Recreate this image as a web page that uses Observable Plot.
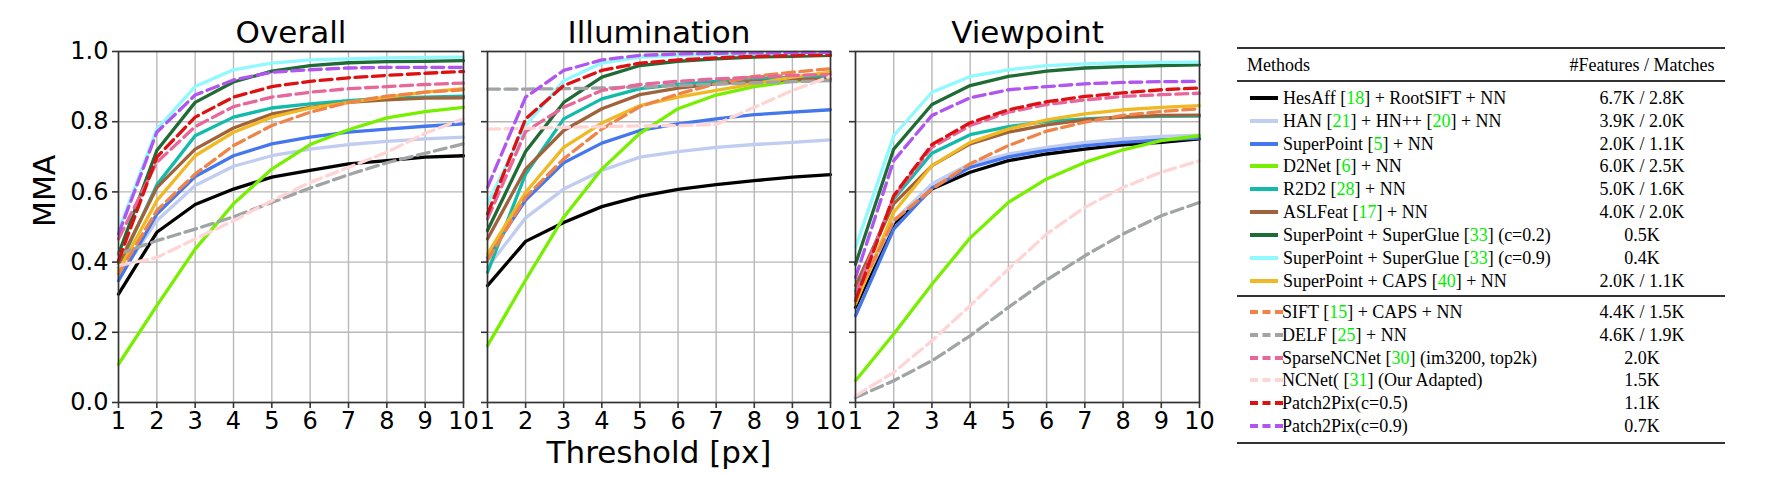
<!DOCTYPE html>
<html>
<head>
<meta charset="utf-8">
<script src="https://cdn.jsdelivr.net/npm/d3@7"></script>
<script src="https://cdn.jsdelivr.net/npm/@observablehq/plot@0.6"></script>
<style>
  body { margin: 0; background: #fff; }
  #wrap { position: relative; width: 1777px; height: 477px; overflow: hidden; background: #fff; }
  #wrap > svg { position: absolute; top: 0; }
  .legend { position: absolute; left: 1237px; top: 0; width: 488px; height: 477px;
            font-family: "Liberation Serif", "Times New Roman", serif; font-size: 18px; color: #000; }
  .rule { position: absolute; left: 0; width: 488px; background: #333; }
  .row { position: absolute; left: 0; width: 488px; height: 22px; line-height: 22px; white-space: nowrap; }
  .row .name { position: absolute; left: 46px; }
  .row .num { position: absolute; left: 405px; transform: translateX(-50%); }
  #wrap .row svg.sw { position: absolute; left: 13px; top: 9px; }
  .cite { color: #00ee00; }
</style>
</head>
<body>
<div id="wrap"></div>
<script>
// ---------------- data ----------------
const thresholds = [1, 2, 3, 4, 5, 6, 7, 8, 9, 10];
const yTicks = [0, 0.2, 0.4, 0.6, 0.8, 1.0];
const panelTitles = ["Overall", "Illumination", "Viewpoint"];

const methods = [
  "HesAff [18] + RootSIFT + NN",
  "HAN [21] + HN++ [20] + NN",
  "SuperPoint [5] + NN",
  "D2Net [6] + NN",
  "R2D2 [28] + NN",
  "ASLFeat [17] + NN",
  "SuperPoint + SuperGlue [33] (c=0.2)",
  "SuperPoint + SuperGlue [33] (c=0.9)",
  "SuperPoint + CAPS [40] + NN",
  "SIFT [15] + CAPS + NN",
  "DELF [25] + NN",
  "SparseNCNet [30] (im3200, top2k)",
  "NCNet( [31] (Our Adapted)",
  "Patch2Pix(c=0.5)",
  "Patch2Pix(c=0.9)"
];
const featureCounts = [
  "6.7K / 2.8K", "3.9K / 2.0K", "2.0K / 1.1K", "6.0K / 2.5K", "5.0K / 1.6K",
  "4.0K / 2.0K", "0.5K", "0.4K", "2.0K / 1.1K",
  "4.4K / 1.5K", "4.6K / 1.9K", "2.0K", "1.5K", "1.1K", "0.7K"
];
const colors = [
  "#000000", "#c0ccf0", "#4477ee", "#77f000", "#11bbaa", "#a0623a", "#1f6b35", "#90f8ff",
  "#f0b822", "#f08448", "#a0a4a4", "#e8679a", "#ffd4d4", "#dd1111", "#b055f0"
];
const dashed = [false, false, false, false, false, false, false, false, false,
                true, true, true, true, true, true];

// MMA per method (rows in method order), thresholds 1..10
const overallMMA = [
  [0.309, 0.485, 0.564, 0.608, 0.642, 0.661, 0.680, 0.689, 0.699, 0.703],
  [0.356, 0.518, 0.618, 0.673, 0.703, 0.722, 0.735, 0.744, 0.751, 0.756],
  [0.347, 0.537, 0.644, 0.703, 0.737, 0.756, 0.770, 0.779, 0.787, 0.794],
  [0.109, 0.276, 0.437, 0.566, 0.665, 0.735, 0.777, 0.811, 0.829, 0.841],
  [0.385, 0.620, 0.760, 0.813, 0.839, 0.851, 0.860, 0.867, 0.870, 0.873],
  [0.394, 0.612, 0.722, 0.782, 0.822, 0.841, 0.855, 0.862, 0.867, 0.868],
  [0.423, 0.718, 0.855, 0.913, 0.944, 0.960, 0.968, 0.971, 0.972, 0.974],
  [0.490, 0.779, 0.900, 0.948, 0.967, 0.976, 0.979, 0.982, 0.983, 0.984],
  [0.375, 0.575, 0.703, 0.770, 0.813, 0.839, 0.855, 0.870, 0.884, 0.894],
  [0.366, 0.547, 0.651, 0.732, 0.789, 0.827, 0.855, 0.873, 0.884, 0.891],
  [0.423, 0.461, 0.494, 0.529, 0.570, 0.611, 0.649, 0.683, 0.710, 0.737],
  [0.466, 0.684, 0.786, 0.843, 0.870, 0.884, 0.894, 0.900, 0.906, 0.910],
  [0.390, 0.413, 0.466, 0.518, 0.575, 0.627, 0.670, 0.713, 0.767, 0.808],
  [0.404, 0.699, 0.813, 0.870, 0.900, 0.915, 0.925, 0.932, 0.938, 0.943],
  [0.480, 0.770, 0.876, 0.919, 0.941, 0.948, 0.953, 0.955, 0.955, 0.955]
];
const illuminationMMA = [
  [0.333, 0.459, 0.513, 0.558, 0.587, 0.607, 0.621, 0.632, 0.642, 0.649],
  [0.385, 0.526, 0.608, 0.661, 0.699, 0.715, 0.727, 0.735, 0.741, 0.748],
  [0.413, 0.577, 0.683, 0.739, 0.775, 0.794, 0.808, 0.820, 0.827, 0.834],
  [0.162, 0.349, 0.528, 0.665, 0.767, 0.837, 0.876, 0.900, 0.915, 0.919],
  [0.371, 0.651, 0.808, 0.865, 0.894, 0.906, 0.915, 0.922, 0.927, 0.929],
  [0.466, 0.665, 0.775, 0.837, 0.877, 0.896, 0.908, 0.915, 0.919, 0.922],
  [0.490, 0.715, 0.855, 0.927, 0.960, 0.972, 0.979, 0.984, 0.986, 0.989],
  [0.566, 0.789, 0.917, 0.967, 0.984, 0.989, 0.991, 0.993, 0.994, 0.995],
  [0.423, 0.599, 0.727, 0.796, 0.846, 0.870, 0.889, 0.908, 0.927, 0.941],
  [0.404, 0.585, 0.694, 0.779, 0.843, 0.879, 0.908, 0.929, 0.941, 0.951],
  [0.893, 0.893, 0.894, 0.896, 0.899, 0.903, 0.907, 0.911, 0.914, 0.917],
  [0.523, 0.772, 0.841, 0.889, 0.906, 0.915, 0.922, 0.927, 0.932, 0.934],
  [0.779, 0.781, 0.784, 0.786, 0.788, 0.789, 0.792, 0.841, 0.889, 0.929],
  [0.537, 0.808, 0.903, 0.946, 0.967, 0.976, 0.982, 0.986, 0.989, 0.990],
  [0.613, 0.870, 0.946, 0.976, 0.989, 0.993, 0.995, 0.996, 0.997, 0.998]
];
const viewpointMMA = [
  [0.271, 0.509, 0.608, 0.656, 0.689, 0.708, 0.722, 0.734, 0.741, 0.751],
  [0.290, 0.518, 0.623, 0.680, 0.708, 0.727, 0.741, 0.751, 0.758, 0.762],
  [0.247, 0.494, 0.611, 0.670, 0.700, 0.718, 0.732, 0.741, 0.748, 0.753],
  [0.062, 0.195, 0.337, 0.469, 0.570, 0.637, 0.684, 0.720, 0.746, 0.760],
  [0.318, 0.580, 0.710, 0.763, 0.786, 0.801, 0.808, 0.813, 0.815, 0.816],
  [0.333, 0.566, 0.675, 0.737, 0.770, 0.791, 0.805, 0.813, 0.818, 0.819],
  [0.394, 0.722, 0.849, 0.903, 0.929, 0.944, 0.953, 0.957, 0.960, 0.962],
  [0.442, 0.760, 0.884, 0.929, 0.948, 0.960, 0.965, 0.968, 0.969, 0.970],
  [0.280, 0.542, 0.675, 0.741, 0.779, 0.805, 0.822, 0.834, 0.841, 0.846],
  [0.299, 0.518, 0.608, 0.680, 0.732, 0.773, 0.799, 0.818, 0.829, 0.837],
  [0.014, 0.062, 0.119, 0.190, 0.271, 0.349, 0.418, 0.480, 0.532, 0.570],
  [0.309, 0.585, 0.727, 0.789, 0.827, 0.849, 0.862, 0.872, 0.877, 0.881],
  [0.019, 0.086, 0.176, 0.276, 0.380, 0.480, 0.556, 0.613, 0.656, 0.689],
  [0.290, 0.589, 0.735, 0.797, 0.834, 0.857, 0.872, 0.882, 0.891, 0.896],
  [0.356, 0.689, 0.818, 0.868, 0.891, 0.900, 0.908, 0.912, 0.914, 0.915]
];
const panelData = [overallMMA, illuminationMMA, viewpointMMA];

// ---------------- panels ----------------
const wrap = document.getElementById("wrap");
const layout = [
  {left: 0,   width: 480, marginLeft: 118, marginRight: 17},
  {left: 470, width: 380, marginLeft: 17,  marginRight: 20},
  {left: 838, width: 380, marginLeft: 17,  marginRight: 19}
];

panelData.forEach((mma, p) => {
  const L = layout[p];
  const lineMarks = methods.map((m, i) => Plot.lineY(
    thresholds.map((t, j) => ({t, v: mma[i][j]})),
    {x: "t", y: "v", stroke: colors[i], strokeWidth: 3.3,
     strokeDasharray: dashed[i] ? "12,5.5" : null, strokeLinejoin: "round"}
  ));
  const marks = [
    Plot.gridX(thresholds, {stroke: "#b8b8b8", strokeOpacity: 1, strokeWidth: 1.4}),
    Plot.gridY(yTicks, {stroke: "#b8b8b8", strokeOpacity: 1, strokeWidth: 1.4}),
    ...lineMarks,
    Plot.frame({stroke: "#333", strokeWidth: 1.6}),
    Plot.axisX(thresholds, {tickSize: 6, tickPadding: 3, fontSize: 24, label: null,
      tickFormat: d => String(d), stroke: "#333", strokeWidth: 1.6}),
    Plot.axisY(yTicks, {tickSize: 6, tickPadding: 4, fontSize: 24, label: null,
      tickFormat: p === 0 ? d3.format(".1f") : () => "", stroke: "#333", strokeWidth: 1.6}),
    Plot.text([panelTitles[p]], {frameAnchor: "top", dy: -18, fontSize: 31, lineAnchor: "middle", fill: "#000"})
  ];
  if (p === 0) marks.push(Plot.text(["MMA"], {frameAnchor: "left", dx: -73, rotate: -90, fontSize: 30, lineAnchor: "middle", fill: "#000"}));
  if (p === 1) marks.push(Plot.text(["Threshold [px]"], {frameAnchor: "bottom", dy: 51, fontSize: 31, lineAnchor: "middle", fill: "#000"}));

  const chart = Plot.plot({
    width: L.width,
    height: 477,
    marginLeft: L.marginLeft,
    marginRight: L.marginRight,
    marginTop: 51,
    marginBottom: 75,
    x: {domain: [1, 10], axis: null},
    y: {domain: [0, 1], axis: null},
    style: {fontFamily: "DejaVu Sans", background: "transparent", overflow: "visible", color: "#000", maxWidth: "none"},
    marks
  });
  chart.style.left = L.left + "px";
  wrap.appendChild(chart);
});

// ---------------- legend table ----------------
const legend = document.createElement("div");
legend.className = "legend";
wrap.appendChild(legend);

function rule(y, h) {
  const r = document.createElement("div");
  r.className = "rule";
  r.style.top = (y - h / 2) + "px";
  r.style.height = h + "px";
  legend.appendChild(r);
}
function row(yc) {
  const r = document.createElement("div");
  r.className = "row";
  r.style.top = (yc - 11) + "px";
  legend.appendChild(r);
  return r;
}
rule(48, 1.8);
const hdr = row(65);
hdr.innerHTML = '<span class="name" style="left:10px">Methods</span><span class="num">#Features / Matches</span>';
rule(81, 1.2);
rule(296, 1.2);
rule(443, 1.8);

methods.forEach((m, i) => {
  const yc = i < 9 ? 97.7 + 22.9 * i : 312 + 22.8 * (i - 9);
  const name = m.replace(/\[(\d+)\]/g, '[<span class="cite">$1</span>]');
  const r = row(yc);
  const sw = dashed[i]
    ? `<svg class="sw" width="34" height="4"><line x1="0" y1="2" x2="34" y2="2" stroke="${colors[i]}" stroke-width="4" stroke-dasharray="8,4.5"/></svg>`
    : `<svg class="sw" width="28" height="4"><line x1="0" y1="2" x2="28" y2="2" stroke="${colors[i]}" stroke-width="4"/></svg>`;
  r.innerHTML = sw + `<span class="name" style="left:${dashed[i] ? 45 : 46}px">${name}</span><span class="num">${featureCounts[i]}</span>`;
});
</script>
</body>
</html>
